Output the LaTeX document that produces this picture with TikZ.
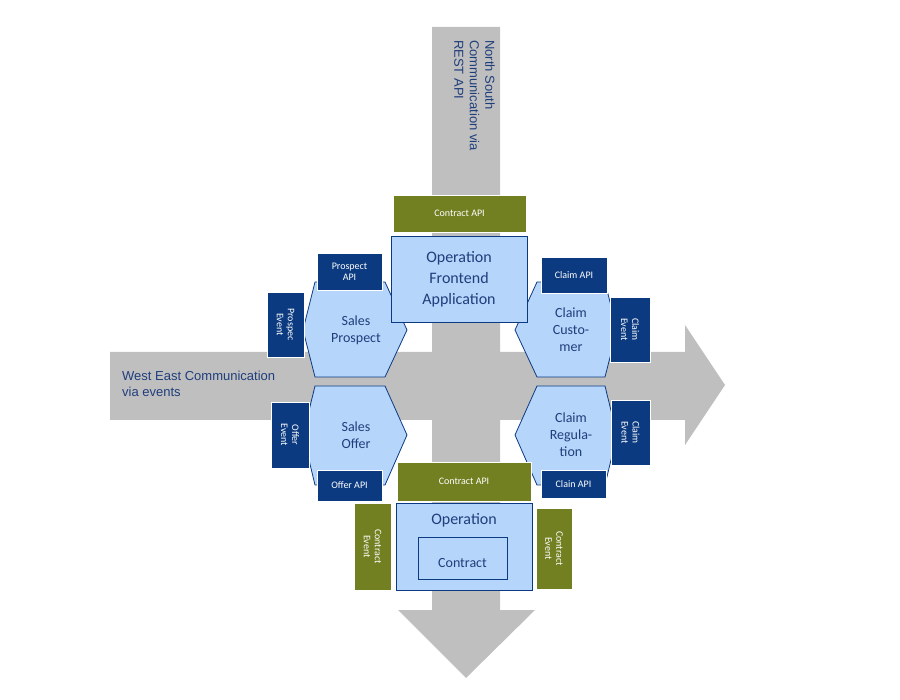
\documentclass[tikz,border=0pt]{standalone}
\usepackage{fontspec}
\setmainfont{Carlito}
\newfontfamily\arialf{Liberation Sans}
\usetikzlibrary{shapes.geometric}
\definecolor{navy}{HTML}{0B3A80}
\definecolor{txtblue}{HTML}{1F3E7C}
\definecolor{lblue}{HTML}{B5D5FB}
\definecolor{olive}{HTML}{728021}
\definecolor{band}{HTML}{BFBFBF}
\tikzset{
 dbox/.style={fill=navy,draw=white,line width=0.8pt,text=white,font=\fontsize{10}{11}\selectfont,align=center,inner sep=0pt},
 gbox/.style={fill=olive,draw=white,line width=0.8pt,text=white,font=\fontsize{10}{11}\selectfont,align=center,inner sep=0pt},
 hex/.style={fill=lblue,draw=navy,line width=0.8pt},
 htext/.style={text=txtblue,font=\fontsize{14}{17}\selectfont,align=center},
}
\begin{document}
\begin{tikzpicture}[x=1pt,y=-1pt]
\useasboundingbox (0,0) rectangle (900,700);
% bands
\fill[band] (432,27) -- (500,27) -- (500,352) -- (685,352) -- (685,325) -- (725,385) -- (685,445) -- (685,420) -- (500,420) -- (500,610) -- (535,610) -- (466,678) -- (398,610) -- (432,610) -- (432,420) -- (110,420) -- (110,352) -- (432,352) -- cycle;
\node[rotate=-90,anchor=north west,align=left,text=txtblue,font=\arialf\fontsize{13}{15.5}\selectfont,inner sep=0pt] (ns) at (495,40) {North South\\Communication via\\REST API};
\node[anchor=west,align=left,text=txtblue,font=\arialf\fontsize{13}{16}\selectfont,inner sep=0pt] (we) at (122,384) {West East Communication\\via events};
% hexagons
\draw[hex] (315,282) -- (385,282) -- (407,330) -- (385,377) -- (315,377) -- (303,330) -- cycle;
\node[htext] (sp) at (356,330) {Sales\\Prospect};
\draw[hex] (315,386) -- (385,386) -- (407,435) -- (385,485) -- (315,485) -- (303,435) -- cycle;
\node[htext] (so) at (356,435) {Sales\\Offer};
\draw[hex] (537,282) -- (605,282) -- (617,330) -- (605,377) -- (537,377) -- (515,330) -- cycle;
\node[htext] (cc) at (571,330) {Claim\\Custo-\\mer};
\draw[hex] (537,386) -- (605,386) -- (617,435) -- (605,485) -- (537,485) -- (515,435) -- cycle;
\node[htext] (cr) at (571,435) {Claim\\Regula-\\tion};
% top
\node[gbox,minimum width=133pt,minimum height=37pt] (capi1) at (459.5,213.5) {Contract API};
\node[fill=lblue,draw=navy,line width=0.8pt,minimum width=136pt,minimum height=86pt,inner sep=0pt,htext,font=\fontsize{16}{21}\selectfont] (ofa) at (459,279) {Operation\\Frontend\\Application};
% small boxes
\node[dbox,minimum width=65pt,minimum height=37pt] (papi) at (349.5,271.5) {Prospect\\API};
\node[dbox,minimum width=37pt,minimum height=65pt] (pev) at (285.5,324.5) {};
\node[rotate=-90,text=white,font=\fontsize{10}{11}\selectfont,align=center,inner sep=0pt] at (pev) {Prospec\\Event};
\node[dbox,minimum width=66pt,minimum height=36pt] (clapi) at (574,275) {Claim API};
\node[dbox,minimum width=40pt,minimum height=65pt] (cev1) at (630,329.5) {};
\node[rotate=-90,text=white,font=\fontsize{10}{11}\selectfont,align=center,inner sep=0pt] at (cev1) {Claim\\Event};
\node[dbox,minimum width=38pt,minimum height=66pt] (oev) at (290,435) {};
\node[rotate=-90,text=white,font=\fontsize{10}{11}\selectfont,align=center,inner sep=0pt] at (oev) {Offer\\Event};
\node[dbox,minimum width=65pt,minimum height=31pt] (oapi) at (349.5,485.5) {Offer API};
\node[dbox,minimum width=39pt,minimum height=65pt] (cev2) at (630.5,432.5) {};
\node[rotate=-90,text=white,font=\fontsize{10}{11}\selectfont,align=center,inner sep=0pt] at (cev2) {Claim\\Event};
\node[dbox,minimum width=65pt,minimum height=28pt] (clnapi) at (573.5,484) {Clain API};
% bottom
\node[gbox,minimum width=134pt,minimum height=39pt] (capi2) at (464,481.5) {Contract API};
\node[fill=lblue,draw=navy,line width=0.8pt,minimum width=136pt,minimum height=87pt,inner sep=0pt] (op) at (464,546.5) {};
\node[htext,font=\fontsize{16}{19}\selectfont] (opt) at (464,520) {Operation};
\node[cylinder,shape border rotate=90,aspect=0.25,fill=lblue,draw=navy,line width=0.8pt,minimum width=89pt,minimum height=42pt,inner sep=0pt,htext] (ct) at (462.5,559) {};
\node[htext] at (462.5,563) {Contract};
\node[gbox,minimum width=37pt,minimum height=87pt] (ce1) at (372.5,546.5) {};
\node[rotate=-90,text=white,font=\fontsize{10}{11}\selectfont,align=center,inner sep=0pt] at (ce1.center) {Contract\\Event};
\node[gbox,minimum width=36pt,minimum height=81pt] (ce2) at (554,548.5) {};
\node[rotate=-90,text=white,font=\fontsize{10}{11}\selectfont,align=center,inner sep=0pt] at (ce2.center) {Contract\\Event};
\end{tikzpicture}
\end{document}
